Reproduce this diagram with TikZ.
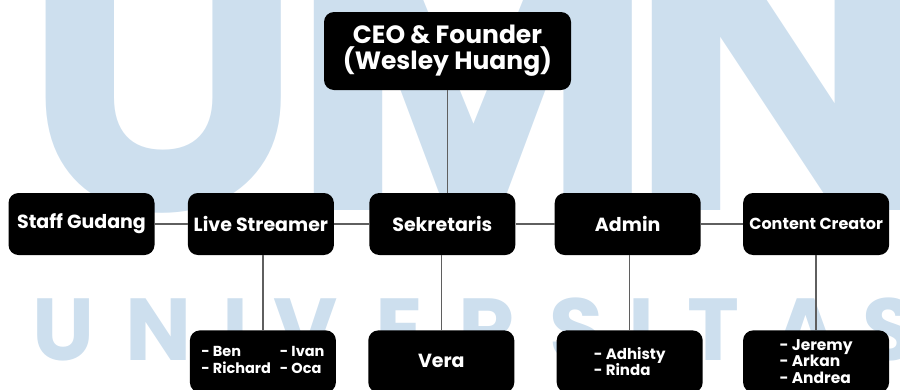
\documentclass[tikz,border=0pt]{standalone}
\usepackage{fontspec}
\setmainfont{Poppins}
\usepackage{xcolor}
\usepackage{tikz}
\usetikzlibrary{positioning, backgrounds}

\definecolor{umnblue}{RGB}{205,223,238}
\definecolor{linegray}{RGB}{95,95,95}

\begin{document}
\begin{tikzpicture}[x=1pt, y=-1pt,
    jabatan/.style={rectangle, rounded corners=10pt, fill=black, text=white,
        minimum width=146pt, minimum height=62pt, inner sep=2pt, align=center,
        font=\bfseries\fontsize{19}{22}\selectfont},
    anggota/.style={jabatan, align=left, font=\bfseries\fontsize{15}{16.7}\selectfont},
    garis/.style={draw=linegray, line width=1.3pt}]
    \useasboundingbox (0,0) rectangle (900,389);
    \clip (0,0) rectangle (900,389);

    % watermark behind everything
    \begin{scope}[on background layer]
        \foreach \huruf/\x in {U/164, M/473, N/778}
            \node [anchor=base, inner sep=0, text=umnblue,
                font=\bfseries\fontsize{400}{400}\selectfont] (wm\huruf) at (\x,210) {\huruf};
        \foreach \huruf/\x [count=\i] in {U/64, N/159, I/235, V/306, E/399, R/487,
                S/577, I/641, T/713, A/806, S/890}
            \node [anchor=base, inner sep=0, text=umnblue,
                font=\bfseries\fontsize{88}{88}\selectfont] (univ\i) at (\x,360) {\huruf};
    \end{scope}

    \node [jabatan, minimum width=247pt, minimum height=78pt,
        font=\bfseries\fontsize{25}{26}\selectfont] (ceo) at (447.5,51) {CEO \& Founder\\(Wesley Huang)};

    \node [jabatan] (gudang) at (81.5,224) {Staff Gudang};
    \node [jabatan, right=33pt of gudang] (live) {Live Streamer};
    \node [jabatan, right=35pt of live] (sekre) {Sekretaris};
    \node [jabatan, right=39pt of sekre] (admin) {Admin};
    \node [jabatan, right=42pt of admin, font=\bfseries\fontsize{16}{18}\selectfont] (konten) {Content Creator};

    \node [anggota, below=75pt of live, xshift=2pt, font=\bfseries\fontsize{14.5}{16.7}\selectfont] (tim-live)
        {\renewcommand{\arraystretch}{1}\begin{tabular}{@{}l@{\hspace{9pt}}l@{}}
            - Ben & - Ivan\\
            - Richard & - Oca
        \end{tabular}};
    \node [jabatan, below=75pt of sekre, xshift=-1pt] (tim-sekre) {Vera};
    \node [anggota, below=75pt of admin, xshift=2pt] (tim-admin) {- Adhisty\\- Rinda};
    \node [anggota, below=75pt of konten, font=\bfseries\fontsize{15.5}{16.7}\selectfont] (tim-konten) {- Jeremy\\- Arkan\\- Andrea};

    \draw [garis] (ceo.south) -- (ceo.south |- sekre.north);
    \draw [garis] (gudang.east) -- (live.west);
    \draw [garis] (live.east) -- (sekre.west);
    \draw [garis] (sekre.east) -- (admin.west);
    \draw [garis] (admin.east) -- (konten.west);

    \draw [garis] (tim-live.north |- live.south) -- (tim-live.north);
    \draw [garis] (tim-sekre.north |- sekre.south) -- (tim-sekre.north);
    \draw [garis] (tim-admin.north |- admin.south) -- (tim-admin.north);
    \draw [garis] (tim-konten.north |- konten.south) -- (tim-konten.north);
\end{tikzpicture}
\end{document}
